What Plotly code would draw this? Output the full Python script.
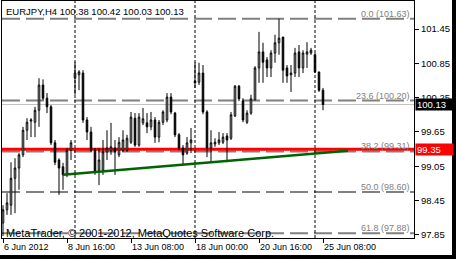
import pandas as pd
import plotly.graph_objects as go

# ---------------- data ----------------
symbol = "EURJPY,H4"
opens = [98.06, 98.29, 98.37, 98.84, 99.02, 99.25, 99.68, 99.84, 99.82, 100.03,
         100.47, 100.24, 100.09, 99.46, 99.16, 99.04, 98.90, 99.33, 100.59, 100.65,
         100.68, 99.86, 99.65, 99.33, 98.98, 98.98, 99.30, 99.32, 99.37, 99.25,
         99.33, 99.33, 99.47, 99.89, 99.42, 99.81, 99.81, 99.74, 99.86, 99.56,
         99.82, 99.86, 100.26, 99.98, 99.60, 99.37, 99.28, 99.46, 100.54, 100.52,
         100.68, 100.00, 99.37, 99.44, 99.46, 99.47, 99.58, 99.54, 99.93, 100.45,
         100.19, 99.82, 99.98, 100.21, 100.77, 101.05, 100.91, 100.77, 101.03, 101.21,
         101.31, 100.77, 100.65, 100.68, 101.05, 100.77, 101.01, 101.03, 101.00, 100.70,
         100.38]
highs = [98.37, 98.58, 99.12, 99.19, 99.28, 99.74, 99.89, 99.89, 100.09, 100.59,
         100.57, 100.33, 100.12, 99.51, 99.19, 99.11, 99.37, 99.51, 100.87, 100.73,
         100.73, 99.91, 99.74, 99.37, 99.37, 99.51, 99.68, 99.81, 99.51, 99.56,
         99.68, 99.60, 100.00, 99.98, 99.98, 100.07, 99.98, 100.00, 99.91, 99.86,
         100.03, 100.33, 100.33, 100.00, 99.63, 99.42, 99.56, 99.72, 100.87, 100.86,
         100.82, 100.03, 99.68, 99.54, 99.65, 99.63, 99.63, 100.00, 100.47, 100.47,
         100.24, 100.03, 100.30, 100.80, 101.40, 101.21, 100.96, 101.08, 101.35, 101.63,
         101.31, 100.82, 100.82, 101.12, 101.17, 101.08, 101.22, 101.12, 101.03, 100.70,
         100.42]
lows = [97.83, 98.20, 98.20, 98.23, 98.64, 99.21, 99.51, 99.56, 99.56, 99.74,
        100.21, 99.98, 99.42, 99.07, 98.55, 98.64, 98.86, 99.16, 100.30, 100.38,
        99.81, 99.51, 99.30, 98.90, 98.72, 98.90, 99.16, 99.25, 98.90, 99.21,
        99.30, 99.30, 99.44, 99.39, 99.39, 99.77, 99.63, 99.68, 99.46, 99.47,
        99.77, 99.82, 99.96, 99.56, 99.33, 99.07, 99.25, 99.28, 100.42, 100.47,
        99.96, 99.21, 99.11, 99.39, 99.42, 99.44, 99.12, 99.51, 99.91, 100.19,
        99.82, 99.79, 99.95, 100.21, 100.51, 100.51, 100.61, 100.61, 100.86, 101.00,
        100.51, 100.51, 100.35, 100.61, 100.61, 100.68, 100.77, 101.00, 100.68, 100.35,
        100.03]
closes = [98.29, 98.41, 98.84, 99.02, 99.25, 99.68, 99.82, 99.86, 100.03, 100.47,
          100.24, 100.09, 99.46, 99.12, 99.02, 98.90, 99.33, 99.46, 100.68, 100.70,
          99.86, 99.65, 99.33, 98.95, 99.16, 99.30, 99.37, 99.39, 99.30, 99.47,
          99.51, 99.54, 99.91, 99.42, 99.91, 99.88, 99.74, 99.86, 99.56, 99.82,
          100.00, 100.26, 100.00, 99.60, 99.37, 99.25, 99.46, 99.51, 100.51, 100.68,
          100.00, 99.37, 99.46, 99.47, 99.51, 99.56, 99.51, 99.95, 100.45, 100.23,
          99.86, 99.98, 100.23, 100.77, 101.05, 100.87, 100.77, 101.03, 101.21, 101.29,
          100.73, 100.63, 100.68, 101.03, 100.77, 101.03, 101.05, 101.08, 100.70, 100.38,
          100.13]

fib_pcts = [0.0, 23.6, 38.2, 50.0, 61.8]
fib_levels = [101.63, 100.20, 99.31, 98.60, 97.88]
red_level = 99.35
trend_idx = [15, 86.25]
trend_price = [98.90, 99.32]
copyright_text = "MetaTrader, \u00a9 2001-2012, MetaQuotes Software Corp."

# bar times (H4, weekdays only) -> categories
_all = pd.date_range("2012-06-06 00:00", periods=200, freq="4h")
times = [t for t in _all if t.weekday() < 5][:len(opens)]
idx = list(range(len(times)))
tick_idx = idx[::16]
tick_text = [f"{times[i].day} {times[i]:%b %Y}" if k == 0 else f"{times[i].day} {times[i]:%b %H:%M}"
             for k, i in enumerate(tick_idx)]
separators = [i for i, t in enumerate(times) if t.weekday() == 0 and t.hour == 0]

# ---------------- figure ----------------
W, H = 456, 259
L, R, T, B = 2, 42, 1, 21
pw, ph = W - L - R, H - T - B

def px_x(px):
    return (px - L) / pw

def px_y(py):
    return (H - B - py) / ph

FONT = "Liberation Sans"

fig = go.Figure()
fig.add_trace(go.Candlestick(
    x=idx, open=opens, high=highs, low=lows, close=closes,
    increasing=dict(fillcolor="white", line=dict(color="black", width=1)),
    decreasing=dict(fillcolor="black", line=dict(color="black", width=1)),
    whiskerwidth=0, hoverinfo="skip", showlegend=False,
))
fig.add_trace(go.Scatter(
    x=trend_idx, y=trend_price, mode="lines",
    line=dict(color="#006400", width=2.5), hoverinfo="skip", showlegend=False,
))

shapes = []
# bid line
shapes.append(dict(type="line", xref="paper", x0=0, x1=1, yref="y", y0=closes[-1], y1=closes[-1],
                   line=dict(color="#c0c0c0", width=1), layer="below"))
# fibo lines
for lv in fib_levels:
    shapes.append(dict(type="line", xref="paper", x0=0, x1=1, yref="y", y0=lv, y1=lv,
                       line=dict(color="#808080", width=2, dash="18px,6px"), layer="below"))
# red horizontal line
shapes.append(dict(type="line", xref="paper", x0=0, x1=1, yref="y", y0=red_level, y1=red_level,
                   line=dict(color="#ff0000", width=3), layer="below"))
# period separators
for s in separators:
    shapes.append(dict(type="line", xref="x", x0=s, x1=s, yref="paper", y0=0, y1=1,
                       line=dict(color="black", width=1, dash="3px,2px"), layer="above"))
# window border strips
shapes.append(dict(type="rect", xref="paper", yref="paper", x0=px_x(452), x1=px_x(470),
                   y0=px_y(270), y1=px_y(-10), fillcolor="black", line=dict(width=0)))
shapes.append(dict(type="rect", xref="paper", yref="paper", x0=px_x(-10), x1=px_x(470),
                   y0=px_y(270), y1=px_y(255), fillcolor="black", line=dict(width=0)))

ann = []
ann.append(dict(xref="paper", yref="paper", x=px_x(4), y=px_y(12), xanchor="left", yanchor="middle",
                text=f"{symbol} {opens[-1]:.2f} {highs[-1]:.2f} {lows[-1]:.2f} {closes[-1]:.2f}",
                showarrow=False, font=dict(family=FONT, size=9.5, color="black")))
ann.append(dict(xref="paper", yref="paper", x=px_x(4), y=px_y(233), xanchor="left", yanchor="middle",
                text=copyright_text, showarrow=False, font=dict(family=FONT, size=11, color="black")))
for p, lv in zip(fib_pcts, fib_levels):
    ann.append(dict(xref="paper", yref="y", x=px_x(412), y=lv, xanchor="right", yanchor="bottom",
                    yshift=-2, text=f"{p:.1f} ({lv:.2f})", showarrow=False,
                    font=dict(family=FONT, size=9, color="#808080")))
for val, bg in [(closes[-1], "black"), (red_level, "#ff0000")]:
    ann.append(dict(xref="paper", yref="y", x=px_x(415), y=val, xanchor="left", yanchor="middle",
                    text=f"{val:.2f}", showarrow=False, bgcolor=bg, width=35, height=9, borderpad=1,
                    align="left", font=dict(family=FONT, size=9.5, color="white")))

fig.update_layout(
    width=W, height=H, margin=dict(l=L, r=R, t=T, b=B),
    paper_bgcolor="white", plot_bgcolor="white",
    shapes=shapes, annotations=ann, boxgap=0.45,
    font=dict(family=FONT, size=9.5, color="black"),
    showlegend=False,
)
fig.update_xaxes(
    range=[-0.25, 102.75], rangeslider=dict(visible=False),
    tickmode="array", tickvals=tick_idx, ticktext=tick_text,
    ticks="outside", ticklen=4, tickcolor="black", ticklabelposition="outside right",
    tickfont=dict(family=FONT, size=9, color="black"),
    showgrid=False, zeroline=False, showline=True, linecolor="black", linewidth=1, mirror=True,
)
fig.update_yaxes(
    range=[97.796, 101.94], side="right", tick0=97.85, dtick=0.6, tickformat=".2f",
    ticks="outside", ticklen=4, tickcolor="black",
    tickfont=dict(family=FONT, size=9.5, color="black"),
    showgrid=False, zeroline=False, showline=True, linecolor="black", linewidth=1, mirror=True,
)

fig.write_html("out.html")
